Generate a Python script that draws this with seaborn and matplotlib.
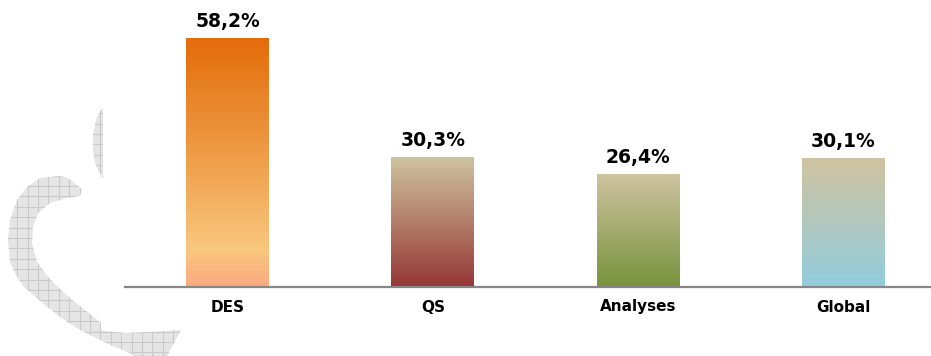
import numpy as np
import pandas as pd
import matplotlib
matplotlib.use("Agg")
import matplotlib.pyplot as plt
import seaborn as sns
from matplotlib.colors import LinearSegmentedColormap
from matplotlib.patches import Polygon

# ---- data ----
categories = ["DES", "QS", "Analyses", "Global"]
rates = [58.2, 30.3, 26.4, 30.1]
value_labels = ["58,2%", "30,3%", "26,4%", "30,1%"]

# colour stops for each bar, listed bottom -> top
bar_gradients = {
    "DES": [(0.0, "#FBAA82"), (0.15, "#F9C77D"), (0.55, "#EE9A45"), (1.0, "#E46C0A")],
    "QS": [(0.0, "#953735"), (1.0, "#CFC3A0")],
    "Analyses": [(0.0, "#77933C"), (1.0, "#CFC3A0")],
    "Global": [(0.0, "#93CDDD"), (1.0, "#CFC3A0")],
}

df = pd.DataFrame({"category": categories, "rate": rates})

sns.set_theme(style="white")
plt.rcParams["font.family"] = ["DejaVu Sans"]

W, H = 931, 356
fig = plt.figure(figsize=(W / 100, H / 100), dpi=100)
fig.patch.set_facecolor("white")

# ---- decorative watermark (pixel coordinates, y downward) ----
bg = fig.add_axes([0, 0, 1, 1], zorder=0)
bg.set_xlim(0, W)
bg.set_ylim(H, 0)
bg.axis("off")

crescent = [
    (80, 196), (82, 190), (77, 185), (68, 178), (60, 176), (40, 178), (27, 187),
    (17, 200), (10, 220), (8, 240), (10, 262), (16, 275), (23, 286), (40, 301),
    (60, 317), (80, 330), (100, 340), (115, 347), (130, 353), (140, 360),
    (165, 360), (181, 330), (150, 332), (125, 333), (104, 331), (101, 329),
    (101, 323), (90, 314), (76, 303), (62, 291), (48, 277), (37, 262),
    (32, 243), (33, 227), (38, 213), (50, 203), (67, 198),
]
leaf = [
    (103, 108), (100, 111), (96, 120), (93, 135), (93, 150), (95, 163),
    (99, 172), (103, 178),
]
grid_x = np.arange(90 - 10.4 * 10, 200, 10.4)
grid_y = np.arange(186 - 10.4 * 10, 370, 10.4)
for pts in (crescent, leaf):
    shape = Polygon(pts, closed=True, facecolor="#E5E5E5", edgecolor="none")
    bg.add_patch(shape)
    vl = bg.vlines(grid_x, 0, H, colors="#CACACA", linewidth=0.8)
    hl = bg.hlines(grid_y, 0, 200, colors="#CACACA", linewidth=0.8)
    vl.set_clip_path(shape)
    hl.set_clip_path(shape)

# ---- bar chart ----
ax_left, ax_bottom = 125 / W, 69 / H
ax = fig.add_axes([ax_left, ax_bottom, 1 - ax_left, 278 / H], zorder=1)
ax.patch.set_alpha(0)

sns.barplot(data=df, x="category", y="rate", order=categories, width=0.404,
            color="#CFC3A0", saturation=1, ax=ax)

ymax = 65
xlim = (-0.5, 3.427)
for cat, patch in zip(categories, ax.patches):
    x0, w, h = patch.get_x(), patch.get_width(), patch.get_height()
    cmap = LinearSegmentedColormap.from_list(cat, bar_gradients[cat])
    grad = np.linspace(0, 1, 256).reshape(-1, 1)
    ax.imshow(grad, cmap=cmap, origin="lower", aspect="auto",
              extent=(x0, x0 + w, 0, h), zorder=2, interpolation="bilinear")
    patch.set_facecolor("none")
    patch.set_edgecolor("none")

for i, (val, lab) in enumerate(zip(rates, value_labels)):
    ax.annotate(lab, xy=(i, val), xytext=(0, 8), textcoords="offset points",
                ha="center", va="baseline", fontsize=13.5, fontweight="bold",
                color="black")

ax.set_xlim(*xlim)
ax.set_ylim(0, ymax)
ax.set_xlabel("")
ax.set_ylabel("")
ax.set_yticks([])
for side in ("top", "right", "left"):
    ax.spines[side].set_visible(False)
ax.spines["bottom"].set_color("#878787")
ax.spines["bottom"].set_linewidth(1.6)
ax.tick_params(axis="x", length=0, pad=9, labelsize=11, colors="black")
for t in ax.get_xticklabels():
    t.set_fontweight("bold")

fig.savefig("out.png", dpi=100, facecolor="white")
